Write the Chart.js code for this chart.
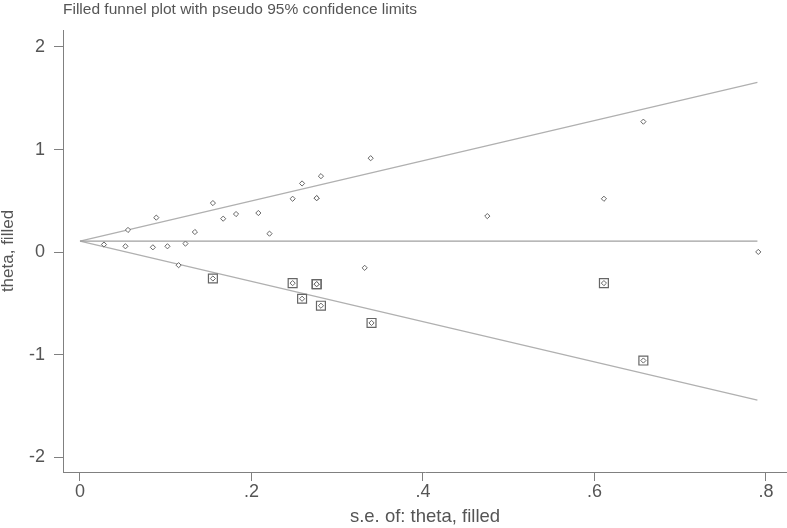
<!DOCTYPE html>
<html>
<head>
<meta charset="utf-8">
<script src="https://cdn.jsdelivr.net/npm/chart.js@4/dist/chart.umd.min.js"></script>
<style>
    html, body { margin: 0; padding: 0; background: #fff; overflow: hidden; }
    #wrap { width: 787px; height: 528px; position: relative; }
</style>
</head>
<body>
<div id="wrap"><canvas id="funnel"></canvas></div>
<script>
// observed studies (s.e., theta)
const seObserved    = [0.028, 0.053, 0.056, 0.085, 0.089, 0.102, 0.115, 0.123, 0.134, 0.155, 0.167, 0.182,
                       0.208, 0.221, 0.248, 0.259, 0.276, 0.276, 0.281, 0.332, 0.339, 0.475, 0.611, 0.657, 0.791];
const thetaObserved = [0.075, 0.058, 0.217, 0.048, 0.337, 0.058, -0.126, 0.084, 0.197, 0.479, 0.327, 0.372,
                       0.382, 0.181, 0.521, 0.670, 0.527, 0.527, 0.741, -0.152, 0.916, 0.352, 0.521, 1.272, 0.003];

// filled (imputed) studies
const seFilled    = [0.155, 0.248, 0.259, 0.276, 0.276, 0.281, 0.340, 0.611, 0.657];
const thetaFilled = [-0.256, -0.301, -0.453, -0.311, -0.311, -0.521, -0.689, -0.301, -1.055];

// pooled estimate and pseudo 95% limits, read at s.e. = 0 and s.e. = max
const seLine      = [0, 0.79];
const thetaPooled = [0.108, 0.108];
const upperLimit  = [0.108, 1.655];
const lowerLimit  = [0.108, -1.44];

const xTicks = [0, 0.2, 0.4, 0.6, 0.8];
const xTickLabels = ['0', '.2', '.4', '.6', '.8'];
const yTicks = [-2, -1, 0, 1, 2];
const yTickLabels = ['-2', '-1', '0', '1', '2'];

function toPoints(xs, ys) {
    return xs.map((x, i) => ({x: x, y: ys[i]}));
}

const textColor = '#555';
const axisColor = '#808080';
const lineColor = '#b0b0b0';
const fontFamily = '"Liberation Sans", Arial, sans-serif';

let ctx = document.getElementById('funnel');
let chart = new Chart(ctx, {
    type: 'scatter',
    data: {
        datasets: [{
            label: 'filled box',
            data: toPoints(seFilled, thetaFilled),
            pointStyle: 'rect',
            pointRadius: 6.3,
            backgroundColor: 'rgba(0,0,0,0)',
            borderColor: '#666',
            borderWidth: 1.2
        }, {
            label: 'filled',
            data: toPoints(seFilled, thetaFilled),
            pointStyle: 'rectRot',
            pointRadius: 2.6,
            backgroundColor: '#fff',
            borderColor: '#666',
            borderWidth: 1
        }, {
            label: 'observed',
            data: toPoints(seObserved, thetaObserved),
            pointStyle: 'rectRot',
            pointRadius: 2.6,
            backgroundColor: '#fff',
            borderColor: '#666',
            borderWidth: 1
        }, {
            label: 'pooled',
            data: toPoints(seLine, thetaPooled),
            showLine: true,
            pointRadius: 0,
            borderColor: '#a0a0a0',
            borderWidth: 1.2
        }, {
            label: 'upper',
            data: toPoints(seLine, upperLimit),
            showLine: true,
            pointRadius: 0,
            borderColor: lineColor,
            borderWidth: 1.2
        }, {
            label: 'lower',
            data: toPoints(seLine, lowerLimit),
            showLine: true,
            pointRadius: 0,
            borderColor: lineColor,
            borderWidth: 1.2
        }]
    },
    options: {
        responsive: true,
        maintainAspectRatio: false,
        animation: false,
        layout: { autoPadding: false, padding: 0 },
        plugins: {
            legend: { display: false },
            tooltip: { enabled: false },
            title: {
                display: true,
                text: 'Filled funnel plot with pseudo 95% confidence limits',
                align: 'start',
                fullSize: false,
                color: textColor,
                font: { family: fontFamily, size: 15.5, weight: 'normal', lineHeight: 1.2 },
                padding: { top: 0, bottom: 11.4 }
            }
        },
        scales: {
            x: {
                type: 'linear',
                min: -0.0198,
                max: 0.8245,
                afterFit: function (scale) {
                    scale.height = 56;
                    scale.paddingLeft = 0;
                    scale.paddingRight = 0;
                },
                afterBuildTicks: function (scale) { scale.ticks = xTicks.map(v => ({value: v})); },
                grid: { drawOnChartArea: false, drawTicks: true, tickLength: 9, color: axisColor },
                border: { display: true, color: axisColor, width: 1 },
                ticks: {
                    color: textColor,
                    padding: 0,
                    maxRotation: 0,
                    font: { family: fontFamily, size: 18 },
                    callback: function (value) {
                        let index = xTicks.indexOf(value);
                        return index >= 0 ? xTickLabels[index] : '';
                    }
                },
                title: {
                    display: true,
                    text: 's.e. of: theta, filled',
                    color: textColor,
                    font: { family: fontFamily, size: 18.5, lineHeight: 1.2 },
                    padding: 0
                }
            },
            y: {
                type: 'linear',
                min: -2.141,
                max: 2.165,
                afterFit: function (scale) {
                    scale.width = 63;
                    scale.paddingTop = 0;
                    scale.paddingBottom = 0;
                },
                afterBuildTicks: function (scale) { scale.ticks = yTicks.map(v => ({value: v})); },
                grid: { drawOnChartArea: false, drawTicks: true, tickLength: 9, color: axisColor },
                border: { display: true, color: axisColor, width: 1 },
                ticks: {
                    color: textColor,
                    padding: 9,
                    font: { family: fontFamily, size: 18 },
                    callback: function (value) {
                        let index = yTicks.indexOf(value);
                        return index >= 0 ? yTickLabels[index] : '';
                    }
                },
                title: {
                    display: true,
                    text: 'theta, filled',
                    color: textColor,
                    font: { family: fontFamily, size: 17, lineHeight: 1 },
                    padding: 0
                }
            }
        }
    }
});
</script>
</body>
</html>
